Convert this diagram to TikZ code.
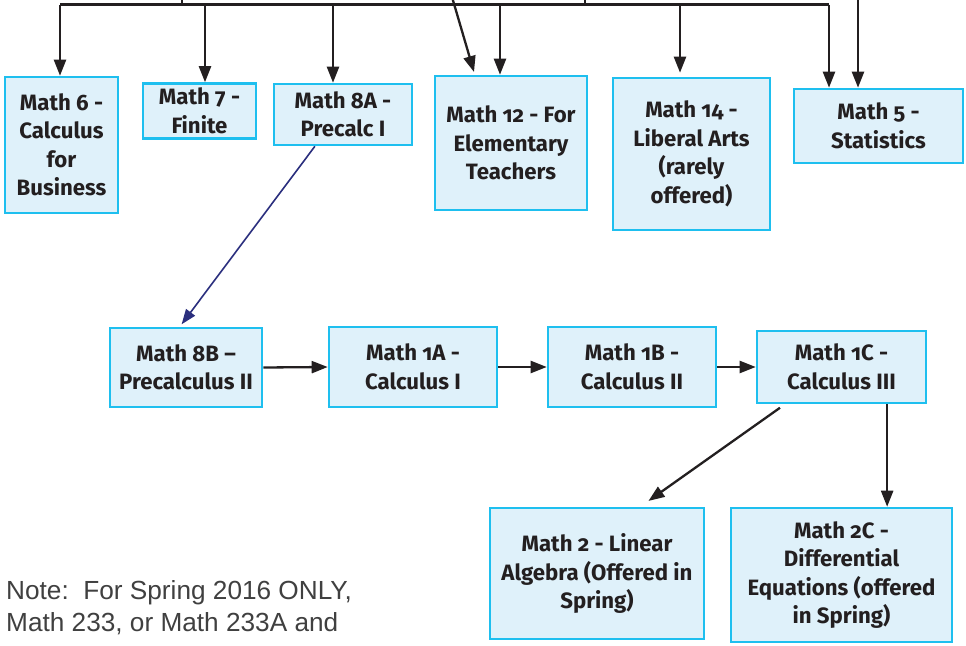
\documentclass[tikz,border=0pt]{standalone}
\usepackage{fontspec}
\setmainfont{Fira Sans}[Numbers=OldStyle]
\newfontfamily\notefont{Liberation Sans}
\usetikzlibrary{arrows.meta,calc}
\definecolor{boxfill}{HTML}{DFF1FA}
\definecolor{boxedge}{HTML}{1EBFEF}
\definecolor{ink}{HTML}{231F20}
\definecolor{navy}{HTML}{2B2F7E}
\definecolor{notegray}{HTML}{404040}
\tikzset{
  course/.style={draw=boxedge, line width=2.6pt, fill=boxfill, inner sep=0pt, align=center,
    text=ink, font=\fontsize{22.2}{28.5}\selectfont\bfseries},
  arr/.style={draw=ink, line width=2.3pt, -{Triangle[length=16pt,width=12pt]}},
  plain/.style={draw=ink, line width=2.3pt},
  navyarr/.style={draw=navy, line width=1.6pt, -{Triangle[length=15pt,width=11pt]}}
}
\begin{document}
\begin{tikzpicture}[x=1pt,y=-1pt]
\useasboundingbox[fill=white] (0,0) rectangle (966,645);
% top row
\node[course, minimum width=113pt, minimum height=136pt] (m6) at (61.5,145) {Math 6 -\\Calculus\\for\\Business};
\node[course, minimum width=113pt, minimum height=55pt] (m7) at (199.5,111) {Math 7 -\\Finite};
\node[course, minimum width=138pt, minimum height=61pt] (m8a) at (343,114.5) {Math 8A -\\Precalc I};
\node[course, minimum width=152pt, minimum height=134pt] (m12) at (511,143) {Math 12 - For\\Elementary\\Teachers};
\node[course, minimum width=157pt, minimum height=152pt] (m14) at (691.5,154) {Math 14 -\\Liberal Arts\\(rarely\\offered)};
\node[course, minimum width=169pt, minimum height=74pt] (m5) at (878.5,126) {Math 5 -\\Statistics};
% middle row
\node[course, minimum width=152pt, minimum height=79pt] (m8b) at (186,367.5) {Math 8B –\\Precalculus II};
\node[course, minimum width=168pt, minimum height=80pt] (m1a) at (413,367) {Math 1A -\\Calculus I};
\node[course, minimum width=168pt, minimum height=80pt] (m1b) at (632,367) {Math 1B -\\Calculus II};
\node[course, minimum width=169pt, minimum height=72pt] (m1c) at (841.5,367) {Math 1C -\\Calculus III};
% bottom row
\node[course, minimum width=214pt, minimum height=131pt] (m2) at (597,573.5) {Math 2 - Linear\\Algebra (Offered in\\Spring)};
\node[course, minimum width=221pt, minimum height=134pt] (m2c) at (841.5,575) {Math 2C -\\Differential\\Equations (offered\\in Spring)};
% note
\node[anchor=base west, align=left, inner sep=0pt, text=notegray,
  font=\notefont\fontsize{26.2}{32.5}\selectfont] (note) at (6,631.5)
  {Note:\ \ For Spring 2016 ONLY,\\Math 233, or Math 233A and};
% top bus
\coordinate (j6) at (60,4.5);
\coordinate (j7) at (205,4.5);
\coordinate (j8) at (333,4.5);
\coordinate (j12) at (500,4.5);
\coordinate (j14) at (680,4.5);
\coordinate (j5) at (829,4.5);
\coordinate (s1) at (182,-3);
\coordinate (s1b) at (182,4.5);
\coordinate (s2) at (585,-3);
\coordinate (s2b) at (585,4.5);
\coordinate (d12) at (452,-3);
\coordinate (d12e) at (474,72);
\coordinate (v5) at (858,-3);
\draw[plain] (j6) -- (j5);
\draw[plain] (s1) -- (s1b);
\draw[plain] (s2) -- (s2b);
\draw[arr] (j6) -- (j6 |- m6.north);
\draw[arr] (j7) -- (j7 |- m7.north);
\draw[arr] (j8) -- (j8 |- m8a.north);
\draw[arr] (j12) -- (j12 |- m12.north);
\draw[arr, shorten >=4pt] (j14) -- (j14 |- m14.north);
\draw[arr] (j5) -- (j5 |- m5.north);
\draw[arr] (v5) -- (v5 |- m5.north);
\draw[arr] (d12) -- (d12e);
% 8A -> 8B
\draw[navyarr, shorten >=3pt] ($(m8a.south west)!0.3!(m8a.south east)$) -- ($(m8b.north west)!0.46!(m8b.north east)$);
% row arrows
\draw[arr] (m8b.east) -- (m1a.west);
\draw[arr] (m1a.east) -- (m1b.west);
\draw[arr] (m1b.east) -- (m1c.west);
% to bottom row
\draw[arr, shorten <=6pt, shorten >=10pt] ($(m1c.south west)!0.17!(m1c.south east)$) -- ($(m2.north west)!0.7!(m2.north east)$);
\coordinate (c2c) at ($(m1c.south west)!0.766!(m1c.south east)$);
\draw[arr] (c2c) -- (c2c |- m2c.north);
\end{tikzpicture}
\end{document}
